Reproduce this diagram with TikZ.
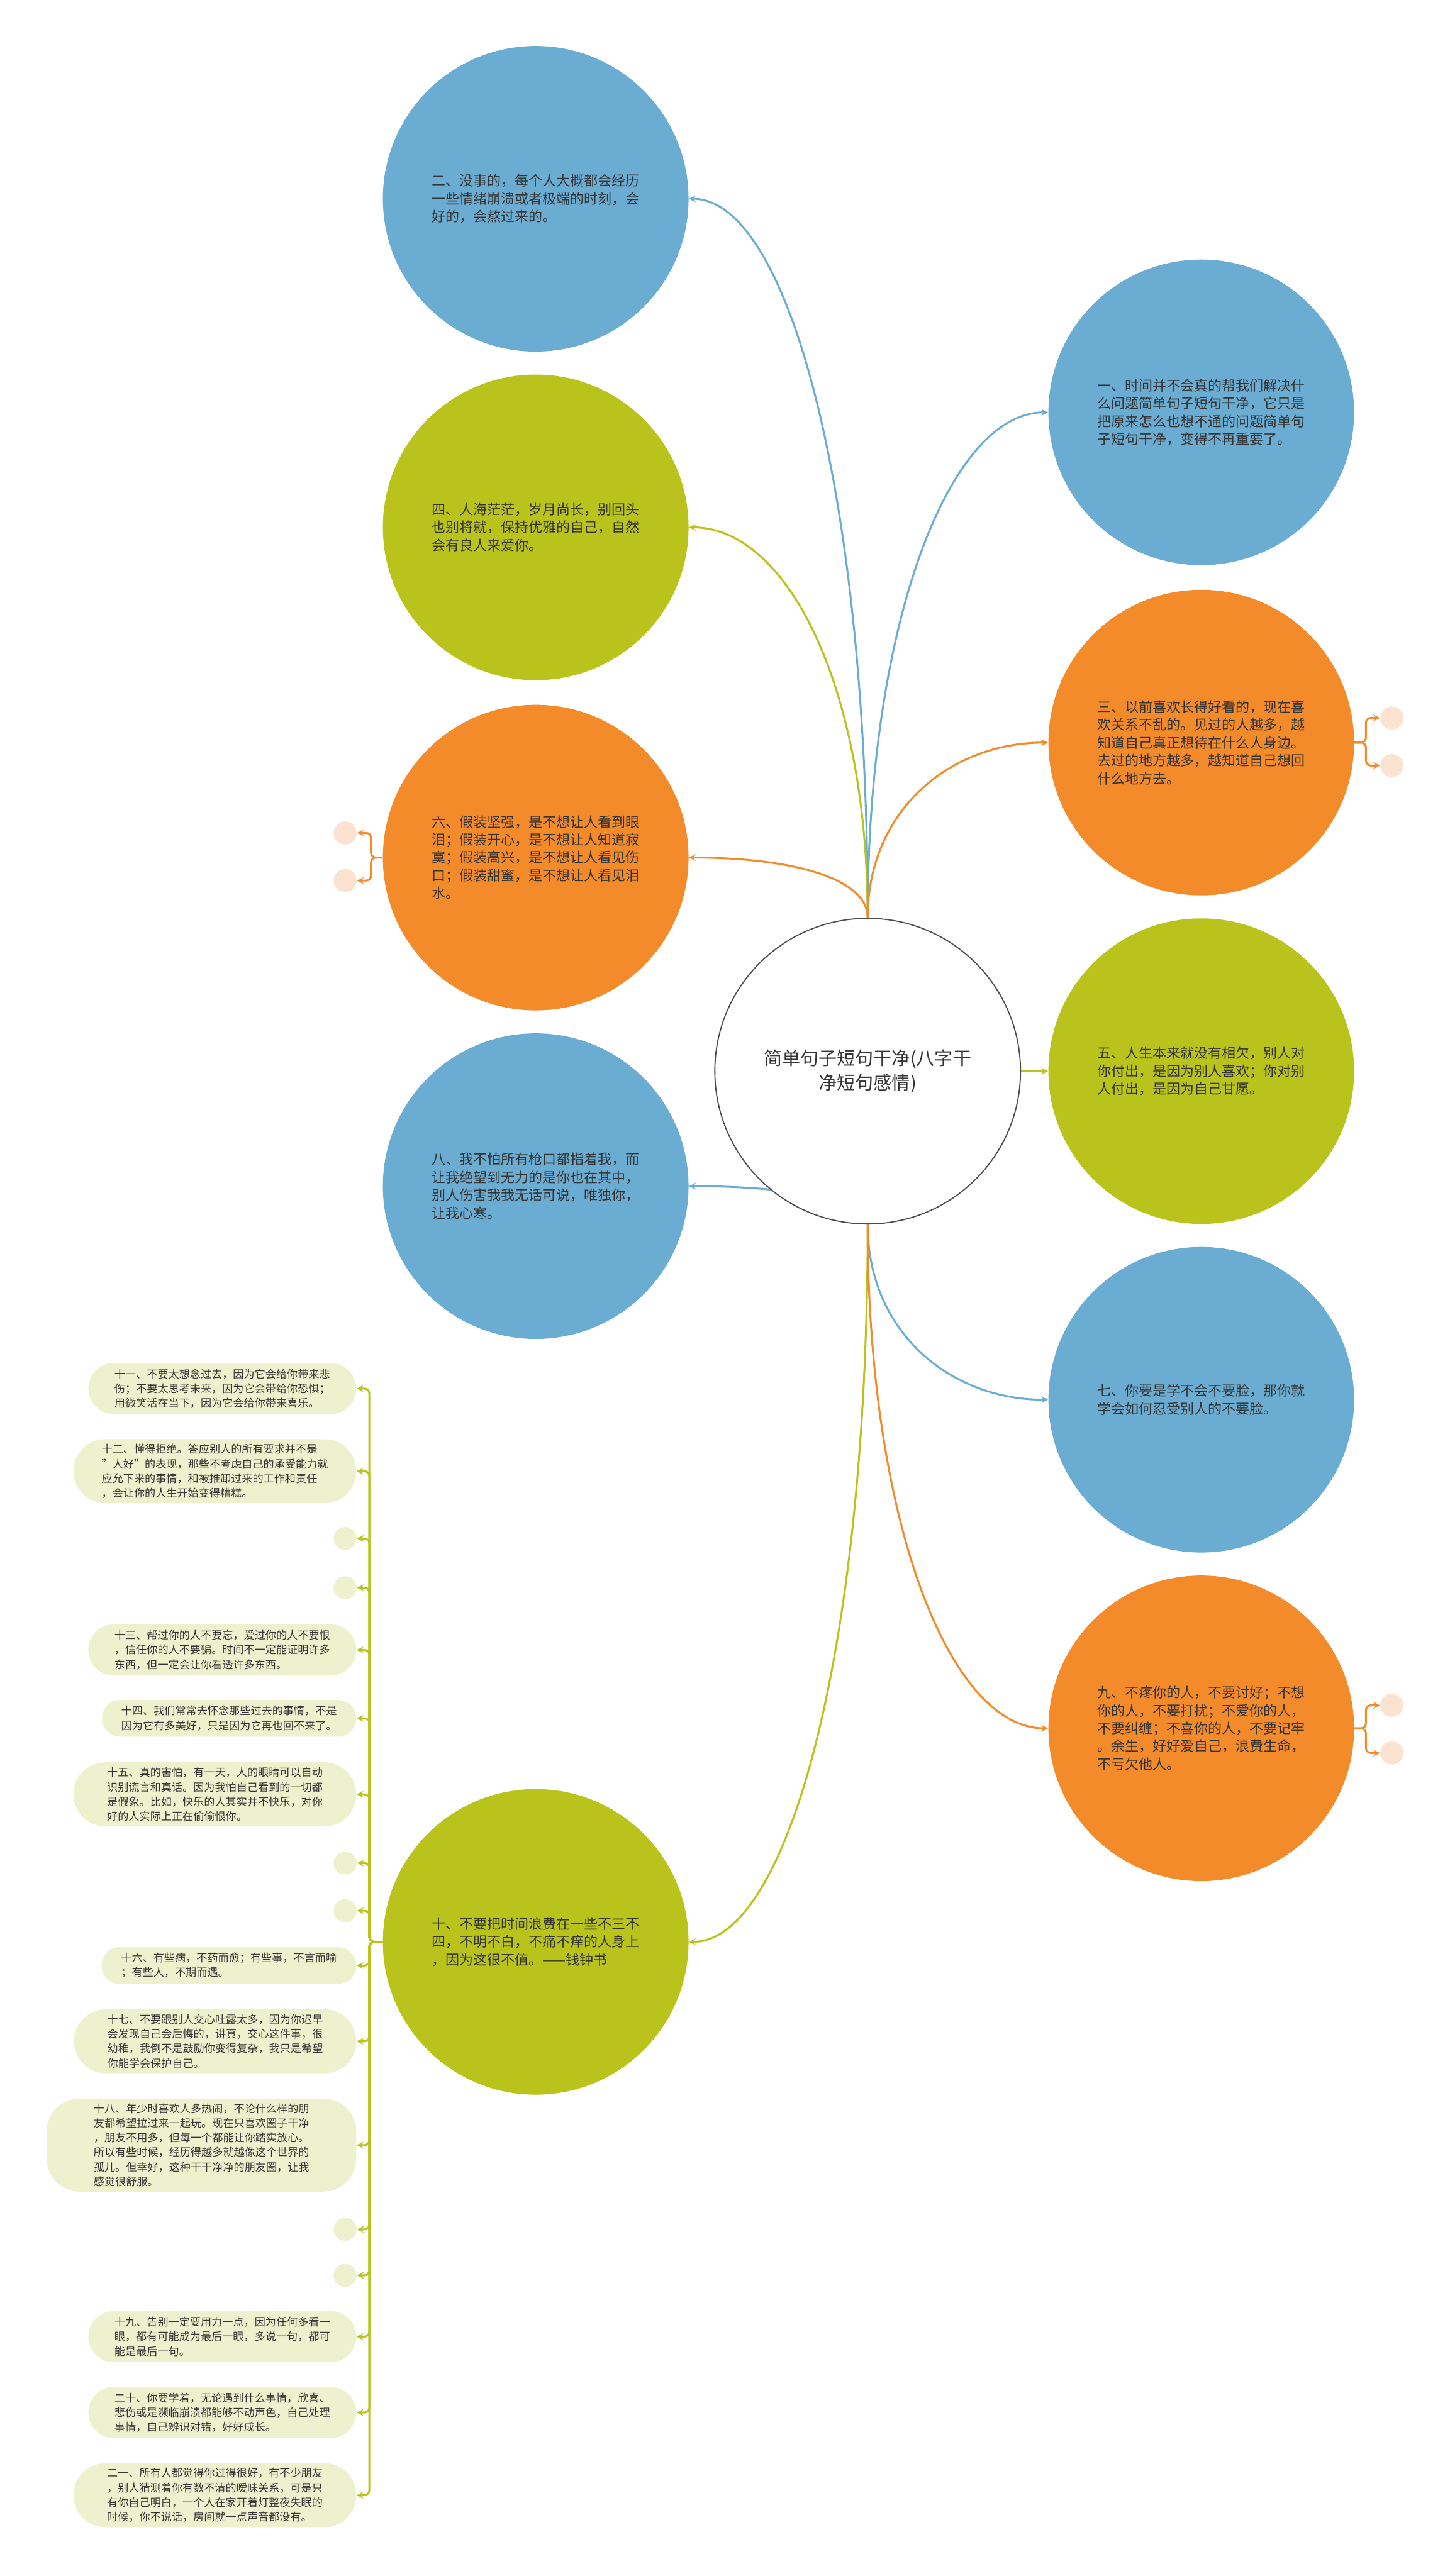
\documentclass[tikz,border=0pt]{standalone}
\usepackage{fontspec}
\setmainfont{Noto Sans CJK SC}
\usetikzlibrary{arrows.meta,backgrounds}

\definecolor{bluec}{HTML}{6BADD2}
\definecolor{greenc}{HTML}{B9C31B}
\definecolor{orangec}{HTML}{F38B2A}
\definecolor{leafc}{HTML}{EEF1CD}
\definecolor{peachc}{HTML}{FCE2D0}
\definecolor{textc}{HTML}{333333}

\tikzset{
  topic/.style={circle, minimum size=5.58cm, inner sep=0pt, align=left, text=textc, font=\fontsize{7.2}{9.3}\selectfont},
  leaf/.style={rectangle, fill=leafc, inner sep=0pt, align=left, anchor=east, text=textc, font=\fontsize{5.6}{7.6}\selectfont},
  dot/.style={circle, minimum size=0.42cm, inner sep=0pt},
  link/.style={line width=1pt, -{Stealth[length=3.5pt,width=3.5pt]}},
  twig/.style={link, rounded corners=0.09cm},
}

\begin{document}
\begin{tikzpicture}[x=0.03cm, y=-0.03cm]
\useasboundingbox (0,0) rectangle (882,1568);

\node[circle, draw=black!70, line width=0.6pt, fill=white, minimum size=5.58cm, inner sep=0pt, align=center, text=textc, font=\fontsize{9.5}{12.8}\selectfont] (C) at (528,652) {简单句子短句干净(八字干\\净短句感情)};

\node[topic, fill=bluec] (N2) at (326,121) {二、没事的，每个人大概都会经历\\一些情绪崩溃或者极端的时刻，会\\好的，会熬过来的。};
\node[topic, fill=greenc] (N4) at (326,321) {四、人海茫茫，岁月尚长，别回头\\也别将就，保持优雅的自己，自然\\会有良人来爱你。};
\node[topic, fill=orangec] (N6) at (326,522) {六、假装坚强，是不想让人看到眼\\泪；假装开心，是不想让人知道寂\\寞；假装高兴，是不想让人看见伤\\口；假装甜蜜，是不想让人看见泪\\水。};
\node[topic, fill=bluec] (N8) at (326,722) {八、我不怕所有枪口都指着我，而\\让我绝望到无力的是你也在其中，\\别人伤害我我无话可说，唯独你，\\让我心寒。};
\node[topic, fill=greenc] (N10) at (326,1182) {十、不要把时间浪费在一些不三不\\四，不明不白，不痛不痒的人身上\\，因为这很不值。——钱钟书};

\node[topic, fill=bluec] (N1) at (731,251) {一、时间并不会真的帮我们解决什\\么问题简单句子短句干净，它只是\\把原来怎么也想不通的问题简单句\\子短句干净，变得不再重要了。};
\node[topic, fill=orangec] (N3) at (731,452) {三、以前喜欢长得好看的，现在喜\\欢关系不乱的。见过的人越多，越\\知道自己真正想待在什么人身边。\\去过的地方越多，越知道自己想回\\什么地方去。};
\node[topic, fill=greenc] (N5) at (731,652) {五、人生本来就没有相欠，别人对\\你付出，是因为别人喜欢；你对别\\人付出，是因为自己甘愿。};
\node[topic, fill=bluec] (N7) at (731,852) {七、你要是学不会不要脸，那你就\\学会如何忍受别人的不要脸。};
\node[topic, fill=orangec] (N9) at (731,1052) {九、不疼你的人，不要讨好；不想\\你的人，不要打扰；不爱你的人，\\不要纠缠；不喜你的人，不要记牢\\。余生，好好爱自己，浪费生命，\\不亏欠他人。};

\node[dot, fill=peachc] (P31) at (847,437) {};
\node[dot, fill=peachc] (P32) at (847,466) {};
\node[dot, fill=peachc] (P61) at (210,507) {};
\node[dot, fill=peachc] (P62) at (210,536) {};
\node[dot, fill=peachc] (P91) at (847,1038) {};
\node[dot, fill=peachc] (P92) at (847,1067) {};

\node[leaf, minimum width=4.89cm, minimum height=0.93cm, rounded corners=0.46cm] (L11) at (217,845.2) {十一、不要太想念过去，因为它会给你带来悲\\伤；不要太思考未来，因为它会带给你恐惧；\\用微笑活在当下，因为它会给你带来喜乐。};
\node[leaf, minimum width=5.16cm, minimum height=1.17cm, rounded corners=0.58cm] (L12) at (217,895.5) {十二、懂得拒绝。答应别人的所有要求并不是\\"人好"的表现，那些不考虑自己的承受能力就\\应允下来的事情，和被推卸过来的工作和责任\\，会让你的人生开始变得糟糕。};
\node[dot, fill=leafc] (D1) at (210,936.5) {};
\node[dot, fill=leafc] (D2) at (210,966.4) {};
\node[leaf, minimum width=4.89cm, minimum height=0.93cm, rounded corners=0.46cm] (L13) at (217,1004.3) {十三、帮过你的人不要忘，爱过你的人不要恨\\，信任你的人不要骗。时间不一定能证明许多\\东西，但一定会让你看透许多东西。};
\node[leaf, minimum width=4.64cm, minimum height=0.67cm, rounded corners=0.33cm] (L14) at (217,1045.9) {十四、我们常常去怀念那些过去的事情，不是\\因为它有多美好，只是因为它再也回不来了。};
\node[leaf, minimum width=5.16cm, minimum height=1.17cm, rounded corners=0.58cm] (L15) at (217,1092.2) {十五、真的害怕，有一天，人的眼睛可以自动\\识别谎言和真话。因为我怕自己看到的一切都\\是假象。比如，快乐的人其实并不快乐，对你\\好的人实际上正在偷偷恨你。};
\node[dot, fill=leafc] (D3) at (210,1134) {};
\node[dot, fill=leafc] (D4) at (210,1163) {};
\node[leaf, minimum width=4.65cm, minimum height=0.67cm, rounded corners=0.33cm] (L16) at (217,1196.4) {十六、有些病，不药而愈；有些事，不言而喻\\；有些人，不期而遇。};
\node[leaf, minimum width=5.15cm, minimum height=1.17cm, rounded corners=0.58cm] (L17) at (217,1242.5) {十七、不要跟别人交心吐露太多，因为你迟早\\会发现自己会后悔的，讲真，交心这件事，很\\幼稚，我倒不是鼓励你变得复杂，我只是希望\\你能学会保护自己。};
\node[leaf, minimum width=5.65cm, minimum height=1.7cm, rounded corners=0.6cm] (L18) at (217,1305.7) {十八、年少时喜欢人多热闹，不论什么样的朋\\友都希望拉过来一起玩。现在只喜欢圈子干净\\，朋友不用多，但每一个都能让你踏实放心。\\所以有些时候，经历得越多就越像这个世界的\\孤儿。但幸好，这种干干净净的朋友圈，让我\\感觉很舒服。};
\node[dot, fill=leafc] (D5) at (210,1357) {};
\node[dot, fill=leafc] (D6) at (210,1385) {};
\node[leaf, minimum width=4.89cm, minimum height=0.93cm, rounded corners=0.46cm] (L19) at (217,1422.3) {十九、告别一定要用力一点，因为任何多看一\\眼，都有可能成为最后一眼，多说一句，都可\\能是最后一句。};
\node[leaf, minimum width=4.89cm, minimum height=0.94cm, rounded corners=0.47cm] (L20) at (217,1468.5) {二十、你要学着，无论遇到什么事情，欣喜、\\悲伤或是濒临崩溃都能够不动声色，自己处理\\事情，自己辨识对错，好好成长。};
\node[leaf, minimum width=5.16cm, minimum height=1.17cm, rounded corners=0.58cm] (L21) at (217,1518.8) {二一、所有人都觉得你过得很好，有不少朋友\\，别人猜测着你有数不清的暧昧关系，可是只\\有你自己明白，一个人在家开着灯整夜失眠的\\时候，你不说话，房间就一点声音都没有。};

\begin{scope}[on background layer]
\draw[link, bluec] (C.north) .. controls +(0,-260) and +(60,0) .. (N2.east);
\draw[link, greenc] (C.north) .. controls +(0,-140) and +(60,0) .. (N4.east);
\draw[link, orangec] (C.north) .. controls +(0,-25) and +(60,0) .. (N6.east);
\draw[link, bluec] (C.south) .. controls +(0,-15) and +(60,0) .. (N8.east);
\draw[link, greenc] (C.south) .. controls +(0,260) and +(60,0) .. (N10.east);
\draw[link, bluec] (C.north) .. controls +(0,-180) and +(-60,0) .. (N1.west);
\draw[link, orangec] (C.north) .. controls +(0,-65) and +(-60,0) .. (N3.west);
\draw[link, greenc] (C.east) -- (N5.west);
\draw[link, bluec] (C.south) .. controls +(0,65) and +(-60,0) .. (N7.west);
\draw[link, orangec] (C.south) .. controls +(0,180) and +(-60,0) .. (N9.west);
\end{scope}

\draw[twig, orangec] (N3.east) -- ++(7,0) |- (P31.west);
\draw[twig, orangec] (N3.east) -- ++(7,0) |- (P32.west);
\draw[twig, orangec] (N6.west) -- ++(-7,0) |- (P61.east);
\draw[twig, orangec] (N6.west) -- ++(-7,0) |- (P62.east);
\draw[twig, orangec] (N9.east) -- ++(7,0) |- (P91.west);
\draw[twig, orangec] (N9.east) -- ++(7,0) |- (P92.west);

\draw[twig, greenc] (N10.west) -- ++(-8,0) |- (L11.east);
\draw[twig, greenc] (N10.west) -- ++(-8,0) |- (L12.east);
\draw[twig, greenc] (N10.west) -- ++(-8,0) |- (D1.east);
\draw[twig, greenc] (N10.west) -- ++(-8,0) |- (D2.east);
\draw[twig, greenc] (N10.west) -- ++(-8,0) |- (L13.east);
\draw[twig, greenc] (N10.west) -- ++(-8,0) |- (L14.east);
\draw[twig, greenc] (N10.west) -- ++(-8,0) |- (L15.east);
\draw[twig, greenc] (N10.west) -- ++(-8,0) |- (D3.east);
\draw[twig, greenc] (N10.west) -- ++(-8,0) |- (D4.east);
\draw[twig, greenc] (N10.west) -- ++(-8,0) |- (L16.east);
\draw[twig, greenc] (N10.west) -- ++(-8,0) |- (L17.east);
\draw[twig, greenc] (N10.west) -- ++(-8,0) |- (L18.east);
\draw[twig, greenc] (N10.west) -- ++(-8,0) |- (D5.east);
\draw[twig, greenc] (N10.west) -- ++(-8,0) |- (D6.east);
\draw[twig, greenc] (N10.west) -- ++(-8,0) |- (L19.east);
\draw[twig, greenc] (N10.west) -- ++(-8,0) |- (L20.east);
\draw[twig, greenc] (N10.west) -- ++(-8,0) |- (L21.east);
\end{tikzpicture}
\end{document}
